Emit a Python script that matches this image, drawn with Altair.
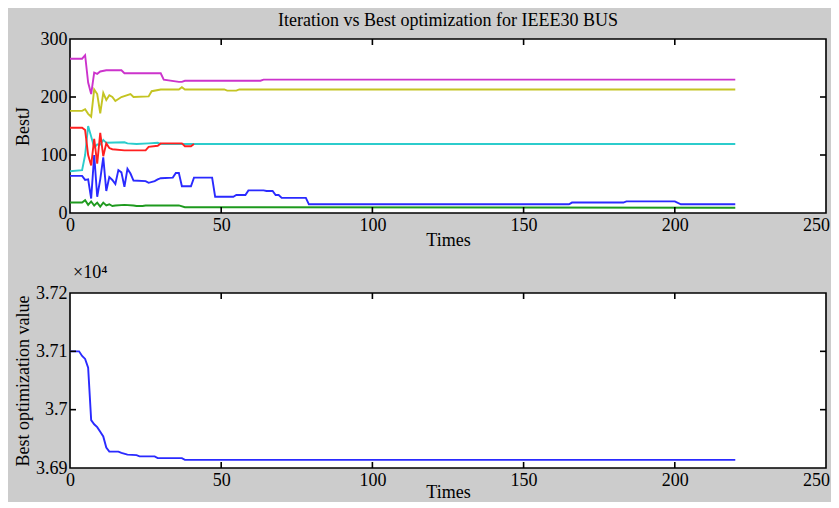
import altair as alt
import pandas as pd

# ---------------- data ----------------
# top panel: BestJ of six variables vs iteration
blue_x = [0, 4, 5, 6, 7, 8, 9, 10, 11, 12, 13, 14, 15, 16, 17, 18, 19, 20, 21, 25, 26, 28, 29, 30, 34, 35, 36, 37, 40, 41, 47, 48, 54, 55, 58, 59, 64, 65, 67, 68, 69, 70, 78, 79, 165, 166, 183, 184, 200, 202, 220]
blue_y = [64, 64, 57, 58, 25, 100, 28, 58, 96, 38, 62, 57, 50, 74, 70, 45, 76, 68, 56, 55, 52, 55, 58, 60, 61, 69, 69, 46, 46, 61, 61, 28, 28, 31, 31, 39, 39, 38, 38, 31, 31, 26, 26, 15, 15, 18, 18, 20, 20, 15, 15]

green_x = [0, 4, 5, 6, 7, 8, 9, 10, 11, 12, 13, 14, 15, 18, 21, 22, 24, 25, 36, 38, 220]
green_y = [18, 18, 22, 14, 20, 13, 18, 11, 18, 13, 15, 12, 13, 14, 13, 12, 12, 13, 13, 10, 9]

red_x = [0, 4, 5, 6, 7, 8, 9, 10, 11, 12, 13, 14, 18, 25, 26, 29, 30, 37, 38, 40, 41]
red_y = [147, 147, 143, 100, 82, 128, 85, 138, 98, 120, 112, 110, 108, 108, 114, 116, 120, 120, 115, 115, 119]

cyan_x = [0, 4, 5, 6, 7, 8, 9, 10, 11, 12, 18, 19, 22, 26, 29, 30, 220]
cyan_y = [72, 74, 100, 150, 132, 113, 118, 118, 126, 121, 122, 120, 119, 120, 121, 119, 119]

magenta_x = [0, 4, 5, 6, 7, 8, 9, 10, 12, 17, 18, 30, 31, 36, 37, 38, 63, 64, 220]
magenta_y = [266, 266, 272, 225, 205, 242, 240, 244, 246, 246, 241, 241, 230, 226, 226, 228, 228, 230, 230]

yellow_x = [0, 4, 5, 6, 7, 8, 9, 10, 11, 12, 13, 14, 15, 17, 20, 21, 26, 27, 30, 36, 37, 38, 51, 52, 55, 56, 220]
yellow_y = [176, 176, 179, 171, 166, 213, 205, 172, 207, 195, 203, 200, 193, 200, 205, 200, 201, 210, 213, 213, 217, 213, 213, 211, 211, 213, 213]

# bottom panel: best optimization value vs iteration
best_x = [0, 3, 4, 5, 6, 7, 8, 9, 10, 11, 12, 13, 16, 17, 19, 22, 23, 28, 29, 37, 38, 220]
best_y = [37100, 37100, 37092, 37087, 37072, 36982, 36975, 36970, 36962, 36954, 36935, 36928, 36928, 36926, 36923, 36922, 36920, 36920, 36917, 36917, 36914, 36914]

x_ticks = [0, 50, 100, 150, 200, 250]
top_y_ticks = [0, 100, 200, 300]
bot_y_ticks = [36900, 37000, 37100, 37200]
x_inner = [50, 100, 150, 200]
top_y_inner = [100, 200]
bot_y_inner = [37000, 37100]

series = [
    ("blue", blue_x, blue_y, "#2a2aff"),
    ("green", green_x, green_y, "#1e9a1e"),
    ("cyan", cyan_x, cyan_y, "#2ccccc"),
    ("red", red_x, red_y, "#ff2020"),
    ("magenta", magenta_x, magenta_y, "#cc33cc"),
    ("yellow", yellow_x, yellow_y, "#c4c422"),
]

W = 756
H_TOP = 174
H_BOT = 175
FONT = "Liberation Serif, Times New Roman, serif"

x_scale = alt.Scale(domain=[0, 250], nice=False, zero=False)
last_label_shift = {"condition": {"test": "datum.value == 250", "value": -10}, "value": 0}


def x_enc(title, tpad):
    return alt.X("iter:Q", scale=x_scale,
                 axis=alt.Axis(values=x_ticks, title=title, format="d",
                               labelOffset=last_label_shift, titlePadding=tpad))


def inner_ticks(xs, ys, H, yscale):
    xdf = pd.DataFrame({"iter": xs})
    ydf = pd.DataFrame({"value": ys})
    tx = alt.X("iter:Q", scale=x_scale)
    ty = alt.Y("value:Q", scale=yscale)
    sty = dict(color="black", strokeWidth=1.6)
    return [
        alt.Chart(xdf).mark_rule(**sty).encode(x=tx, y=alt.value(H), y2=alt.value(H - 6)),
        alt.Chart(xdf).mark_rule(**sty).encode(x=tx, y=alt.value(0), y2=alt.value(6)),
        alt.Chart(ydf).mark_rule(**sty).encode(y=ty, x=alt.value(0), x2=alt.value(6)),
        alt.Chart(ydf).mark_rule(**sty).encode(y=ty, x=alt.value(W - 6), x2=alt.value(W)),
    ]


# ---------------- top panel ----------------
top_yscale = alt.Scale(domain=[0, 300], nice=False, zero=False)
top_layers = []
for name, xs, ys, col in series:
    df = pd.DataFrame({"iter": xs, "value": ys})
    top_layers.append(
        alt.Chart(df).mark_line(color=col, strokeWidth=1.9).encode(
            x=x_enc("Times", -3),
            y=alt.Y("value:Q", scale=top_yscale,
                    axis=alt.Axis(values=top_y_ticks, title="BestJ", titleX=-47,
                                  titleBaseline="middle", titleAlign="center")),
        )
    )
top_layers += inner_ticks(x_inner, top_y_inner, H_TOP, top_yscale)

top = alt.layer(*top_layers).properties(
    width=W, height=H_TOP,
    title=alt.TitleParams("Iteration vs Best optimization for IEEE30 BUS",
                          anchor="middle", frame="group", font=FONT,
                          fontSize=18, fontWeight="normal", color="black", offset=0),
)

# ---------------- bottom panel ----------------
bot_yscale = alt.Scale(domain=[36900, 37200], nice=False, zero=False)
best_df = pd.DataFrame({"iter": best_x, "value": best_y})
bot_line = alt.Chart(best_df).mark_line(color="#2a2aff", strokeWidth=1.9).encode(
    x=x_enc("Times", -6),
    y=alt.Y("value:Q", scale=bot_yscale,
            axis=alt.Axis(values=bot_y_ticks, title="Best optimization value",
                          titleX=-47, titleBaseline="middle", titleAlign="center",
                          labelExpr="format(datum.value / 10000, '.2~f')")),
)
bot = alt.layer(bot_line, *inner_ticks(x_inner, bot_y_inner, H_BOT, bot_yscale)).properties(
    width=W, height=H_BOT,
    title=alt.TitleParams("×10⁴", anchor="start", frame="group", font=FONT,
                          fontSize=18, fontWeight="normal", color="black",
                          offset=2, dx=3),
)

chart = alt.vconcat(top, bot, spacing=13).properties(
    background="#cccccc",
    padding={"left": 5, "top": 3, "right": 0, "bottom": 0},
).configure_view(
    fill="white", stroke="black", strokeWidth=1.6,
).configure_axis(
    grid=False, domain=False, ticks=False,
    labelFont=FONT, labelFontSize=18, labelColor="black", labelPadding=3,
    titleFont=FONT, titleFontSize=18, titleFontWeight="normal", titleColor="black",
).configure_axisX(
    labelFlush=False,
).configure_axisY(
    labelFlush=False,
)

chart.save("out.html", embed_options={"renderer": "svg", "actions": False})
